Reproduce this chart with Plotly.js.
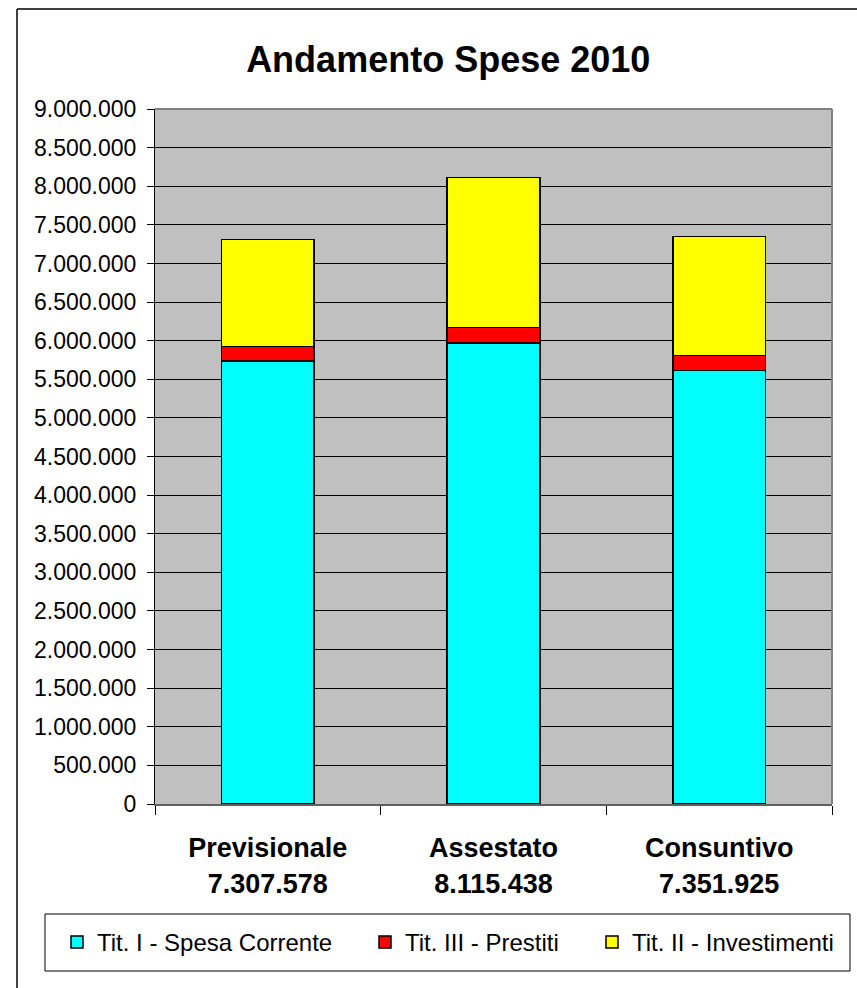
<!DOCTYPE html>
<html>
<head>
<meta charset="utf-8">
<script src="https://cdn.plot.ly/plotly-3.0.1.min.js"></script>
<style>
  html, body { margin: 0; padding: 0; background: #ffffff; }
  #chart { width: 857px; height: 988px; }
</style>
</head>
<body>
<div id="chart"></div>
<script>
// ---- data ----
const categories = ["Previsionale", "Assestato", "Consuntivo"];
const totalLabels = ["7.307.578", "8.115.438", "7.351.925"];
const seriesNames = ["Tit. I - Spesa Corrente", "Tit. III - Prestiti", "Tit. II - Investimenti"];
const spesaCorrente = [5736000, 5969000, 5615000];
const prestiti = [190000, 199000, 195000];
const investimenti = [1381578, 1947438, 1541925];
const yTickVals = [0, 500000, 1000000, 1500000, 2000000, 2500000, 3000000, 3500000, 4000000,
                   4500000, 5000000, 5500000, 6000000, 6500000, 7000000, 7500000, 8000000, 8500000, 9000000];

const FONT = "Liberation Sans, Arial, Helvetica, sans-serif";
const colors = ["#00FFFF", "#FF0000", "#FFFF00"];
const seriesValues = [spesaCorrente, prestiti, investimenti];
const legendIds = ["legend", "legend2", "legend3"];
const legendLeftPx = [57, 365, 592];   // pixel position of each legend entry

// plot-area geometry (pixels)
const M = { l: 155, r: 25, t: 109, b: 184 };
const PW = 857 - M.l - M.r, PH = 988 - M.t - M.b;
const px2x = p => (p - M.l) / PW;
const py2y = p => (988 - M.b - p) / PH;

const traces = seriesValues.map((vals, i) => ({
  type: "bar",
  name: seriesNames[i],
  legend: legendIds[i],
  x: categories,
  y: vals,
  marker: { color: colors[i], line: { color: "#000000", width: 1.5 } },
  hoverinfo: "skip"
}));

const tickText = categories.map((c, i) => "<b>" + c + "</b><br><b>" + totalLabels[i] + "</b>");

function legendCfg(i) {
  return {
    orientation: "h",
    xref: "paper", yref: "paper",
    x: px2x(legendLeftPx[i]), xanchor: "left",
    y: py2y(942.5), yanchor: "middle",
    font: { family: FONT, size: 24, color: "#000000" },
    bgcolor: "rgba(0,0,0,0)",
    borderwidth: 0
  };
}

const layout = {
  width: 857,
  height: 988,
  margin: { l: M.l, r: M.r, t: M.t, b: M.b, autoexpand: false },
  paper_bgcolor: "#ffffff",
  plot_bgcolor: "#C0C0C0",
  barmode: "stack",
  bargap: 0.59,
  separators: ",.",
  font: { family: FONT, color: "#000000" },
  title: {
    text: "<b>Andamento Spese 2010</b>",
    font: { family: FONT, size: 36, color: "#000000" },
    x: 0.523, xref: "container", xanchor: "center",
    y: 0.9403, yref: "container", yanchor: "middle"
  },
  xaxis: {
    type: "category",
    tickmode: "array",
    tickvals: categories,
    ticktext: tickText,
    tickson: "boundaries",
    ticks: "outside",
    ticklen: 9,
    tickcolor: "#000000",
    tickwidth: 1,
    ticklabelstandoff: 19,
    tickfont: { family: FONT, size: 27, color: "#000000" },
    showgrid: false,
    showline: true,
    linecolor: "#606060",
    linewidth: 2,
    zeroline: false,
    fixedrange: true
  },
  yaxis: {
    range: [0, 9000000],
    tickmode: "array",
    tickvals: yTickVals,
    tickformat: ",d",
    ticks: "outside",
    ticklen: 7,
    tickcolor: "#000000",
    tickwidth: 1,
    ticklabelstandoff: 6,
    tickfont: { family: FONT, size: 23, color: "#000000" },
    showgrid: true,
    gridcolor: "#000000",
    gridwidth: 1,
    showline: true,
    linecolor: "#000000",
    linewidth: 1,
    zeroline: false,
    fixedrange: true
  },
  showlegend: true,
  legend: legendCfg(0),
  legend2: legendCfg(1),
  legend3: legendCfg(2),
  shapes: [
    // plot area border (top/right grey)
    { type: "line", xref: "paper", yref: "paper", x0: 0, x1: 1, y0: 1, y1: 1,
      line: { color: "#808080", width: 2 } },
    { type: "line", xref: "paper", yref: "paper", x0: 1, x1: 1, y0: 0, y1: 1,
      line: { color: "#808080", width: 2 } },
    // legend box
    { type: "rect", xref: "paper", yref: "paper",
      x0: px2x(45), x1: px2x(850), y0: py2y(971), y1: py2y(914),
      line: { color: "#000000", width: 1 }, fillcolor: "rgba(0,0,0,0)" },
    // outer chart frame (left and top edges visible)
    { type: "line", xref: "paper", yref: "paper",
      x0: px2x(17), x1: px2x(17), y0: py2y(995), y1: py2y(9),
      line: { color: "#000000", width: 1.5 } },
    { type: "line", xref: "paper", yref: "paper",
      x0: px2x(17), x1: px2x(865), y0: py2y(9), y1: py2y(9),
      line: { color: "#000000", width: 1.5 } }
  ]
};

Plotly.newPlot("chart", traces, layout, { displayModeBar: false, staticPlot: true });
</script>
</body>
</html>
